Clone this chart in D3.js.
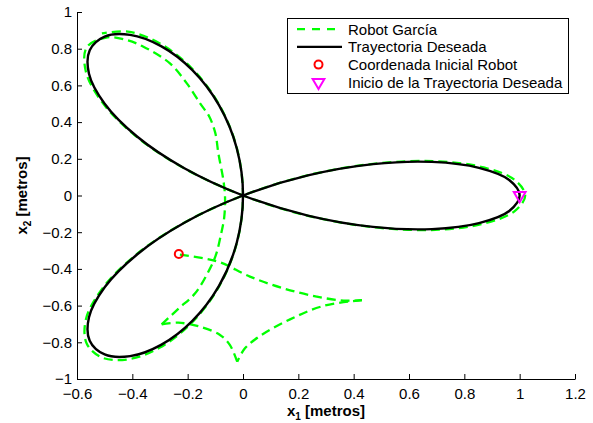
<!DOCTYPE html>
<html>
<head>
<meta charset="utf-8">
<title>Robot García - Trayectoria Deseada</title>
<script src="https://cdn.jsdelivr.net/npm/d3@7"></script>
<style>
  body { margin: 0; background: #fff; font-family: "Liberation Sans", Arial, sans-serif; }
  .axis text { font-size: 15px; fill: #000; font-family: "Liberation Sans", Arial, sans-serif; }
  .axis path, .axis line { stroke: #000; stroke-width: 1; }
  .legend text { font-size: 15px; fill: #000; }
</style>
</head>
<body>
<div id="chart"></div>
<script>
// axis ticks
var xTicks = [-0.6, -0.4, -0.2, 0, 0.2, 0.4, 0.6, 0.8, 1, 1.2];
var yTicks = [-1, -0.8, -0.6, -0.4, -0.2, 0, 0.2, 0.4, 0.6, 0.8, 1];

// desired trajectory (closed three-petal rose), [x1, x2]
var desired = [
  [1, 0], [0.9623, 0.0842], [0.8529, 0.1504], [0.6830, 0.1830], [0.4698, 0.1710], [0.2346, 0.1094], [0, 0],
  [-0.2120, -0.1484], [-0.3830, -0.3214], [-0.5, -0.5], [-0.5567, -0.6634], [-0.5540, -0.7913], [-0.5, -0.8660],
  [-0.4082, -0.8754], [-0.2962, -0.8138], [-0.1830, -0.6830], [-0.0868, -0.4924], [-0.0226, -0.2578], [0, 0],
  [-0.0226, 0.2578], [-0.0868, 0.4924], [-0.1830, 0.6830], [-0.2962, 0.8138], [-0.4082, 0.8754], [-0.5, 0.8660],
  [-0.5540, 0.7913], [-0.5567, 0.6634], [-0.5, 0.5], [-0.3830, 0.3214], [-0.2120, 0.1484], [0, 0],
  [0.2346, -0.1094], [0.4698, -0.1710], [0.6830, -0.1830], [0.8529, -0.1504], [0.9623, -0.0842]
];

// robot path, read in pieces (sharp turns between them)
var robotOut = [[-0.228, -0.322], [-0.15, -0.340], [-0.083, -0.364], [0.025, -0.442], [0.146, -0.506],
  [0.266, -0.551], [0.364, -0.573], [0.43, -0.570]];
var robotBack = [[0.43, -0.570], [0.29, -0.602], [0.17, -0.675], [0.061, -0.766], [0.007, -0.833], [-0.021, -0.906]];
var robotHook = [[-0.021, -0.906], [-0.047, -0.815], [-0.083, -0.760], [-0.155, -0.715], [-0.234, -0.693], [-0.294, -0.702]];
var robotRise = [[-0.294, -0.702], [-0.232, -0.615], [-0.173, -0.533], [-0.119, -0.397], [-0.097, -0.320],
  [-0.080, -0.215], [-0.068, -0.120], [-0.065, -0.007], [-0.071, 0.084], [-0.089, 0.230], [-0.100, 0.34],
  [-0.122, 0.43], [-0.155, 0.502], [-0.203, 0.611], [-0.264, 0.720], [-0.360, 0.811], [-0.420, 0.847], [-0.490, 0.862]];
var robotTrack = [
  [-0.565, 0.807], [-0.568, 0.676], [-0.510, 0.510], [-0.391, 0.328], [-0.216, 0.151], [0, 0],
  [0.239, -0.112], [0.479, -0.174], [0.696, -0.187], [0.870, -0.153], [0.981, -0.086], [1.02, 0],
  [0.981, 0.086], [0.870, 0.153], [0.696, 0.187], [0.479, 0.174], [0.239, 0.112], [0, 0],
  [-0.216, -0.151], [-0.391, -0.328], [-0.510, -0.510], [-0.568, -0.676], [-0.565, -0.807], [-0.510, -0.883],
  [-0.416, -0.893], [-0.302, -0.830], [-0.187, -0.696], [-0.089, -0.502], [-0.023, -0.263], [0, 0],
  [-0.023, 0.263], [-0.089, 0.502], [-0.187, 0.696], [-0.302, 0.830], [-0.416, 0.893], [-0.510, 0.883]
];

var robotStart = [-0.232, -0.319];
var desiredStart = [1, 0];

var legendLabels = ["Robot García", "Trayectoria Deseada", "Coordenada Inicial Robot", "Inicio de la Trayectoria Deseada"];

var W = 593, H = 423;
var margin = {top: 12, right: 18, bottom: 44, left: 77};

var svg = d3.select("#chart").append("svg")
  .attr("width", W)
  .attr("height", H);

var x = d3.scaleLinear().domain([-0.6, 1.2]).range([margin.left, W - margin.right]);
var y = d3.scaleLinear().domain([-1, 1]).range([H - margin.bottom, margin.top]);

var fmt = d => String(d).replace("-", "\u2212");

svg.append("g")
  .attr("class", "axis")
  .attr("transform", "translate(0," + (H - margin.bottom) + ")")
  .call(d3.axisBottom(x).tickValues(xTicks).tickFormat(fmt).tickSizeInner(-5).tickSizeOuter(0).tickPadding(9));

svg.append("g")
  .attr("class", "axis")
  .attr("transform", "translate(" + margin.left + ",0)")
  .call(d3.axisLeft(y).tickValues(yTicks).tickFormat(fmt).tickSizeInner(-5).tickSizeOuter(0).tickPadding(5));

svg.selectAll(".axis text").attr("font-family", null).attr("font-size", null);

var line = d3.line().x(d => x(d[0])).y(d => y(d[1])).curve(d3.curveCatmullRom.alpha(0.5));
var closedLine = d3.line().x(d => x(d[0])).y(d => y(d[1])).curve(d3.curveCatmullRomClosed.alpha(0.5));

var green = "#00ff00";

// robot first, trajectory over it
[robotOut, robotBack, robotHook, robotRise.concat(robotTrack)].forEach(function(piece) {
  svg.append("path")
    .attr("d", line(piece))
    .attr("fill", "none")
    .attr("stroke", green)
    .attr("stroke-width", 2.3)
    .attr("stroke-dasharray", "9,5");
});

svg.append("path")
  .attr("d", closedLine(desired))
  .attr("fill", "none")
  .attr("stroke", "#000")
  .attr("stroke-width", 2.4);

svg.append("circle")
  .attr("cx", x(robotStart[0]))
  .attr("cy", y(robotStart[1]))
  .attr("r", 4)
  .attr("fill", "none")
  .attr("stroke", "#ff0000")
  .attr("stroke-width", 2);

var tri = d3.symbol().type(d3.symbolTriangle).size(60);

svg.append("path")
  .attr("d", tri())
  .attr("transform", "translate(" + x(desiredStart[0]) + "," + y(desiredStart[1]) + ") rotate(180)")
  .attr("fill", "none")
  .attr("stroke", "#ff00ff")
  .attr("stroke-width", 2);

// axis labels
var xl = svg.append("text")
  .attr("x", (margin.left + W - margin.right) / 2)
  .attr("y", 416)
  .attr("text-anchor", "middle")
  .attr("font-size", 15)
  .attr("font-weight", "bold");
xl.append("tspan").text("x");
xl.append("tspan").attr("font-size", 10).attr("dy", 4).text("1");
xl.append("tspan").attr("dy", -4).text(" [metros]");

var yl = svg.append("text")
  .attr("transform", "translate(27," + ((margin.top + H - margin.bottom) / 2) + ") rotate(-90)")
  .attr("text-anchor", "middle")
  .attr("font-size", 15)
  .attr("font-weight", "bold");
yl.append("tspan").text("x");
yl.append("tspan").attr("font-size", 10).attr("dy", 4).text("2");
yl.append("tspan").attr("dy", -4).text(" [metros]");

// legend
var lg = svg.append("g").attr("class", "legend");
lg.append("rect")
  .attr("x", 287.5).attr("y", 18.5)
  .attr("width", 281).attr("height", 75)
  .attr("fill", "#fff")
  .attr("stroke", "#000")
  .attr("stroke-width", 1);

legendLabels.forEach(function(label, i) {
  var base = 34.5 + i * 17.7;
  var cy = base - 5.3;
  if (i === 0) {
    lg.append("line").attr("x1", 297).attr("x2", 342).attr("y1", cy).attr("y2", cy)
      .attr("stroke", green).attr("stroke-width", 2.3).attr("stroke-dasharray", "8,7");
  } else if (i === 1) {
    lg.append("line").attr("x1", 297).attr("x2", 342).attr("y1", cy).attr("y2", cy)
      .attr("stroke", "#000").attr("stroke-width", 2.3);
  } else if (i === 2) {
    lg.append("circle").attr("cx", 318.5).attr("cy", cy).attr("r", 4)
      .attr("fill", "none").attr("stroke", "#ff0000").attr("stroke-width", 2);
  } else {
    lg.append("path").attr("d", tri())
      .attr("transform", "translate(318.5," + cy + ") rotate(180)")
      .attr("fill", "none").attr("stroke", "#ff00ff").attr("stroke-width", 2);
  }
  lg.append("text").attr("x", 348).attr("y", base).text(label);
});
</script>
</body>
</html>
